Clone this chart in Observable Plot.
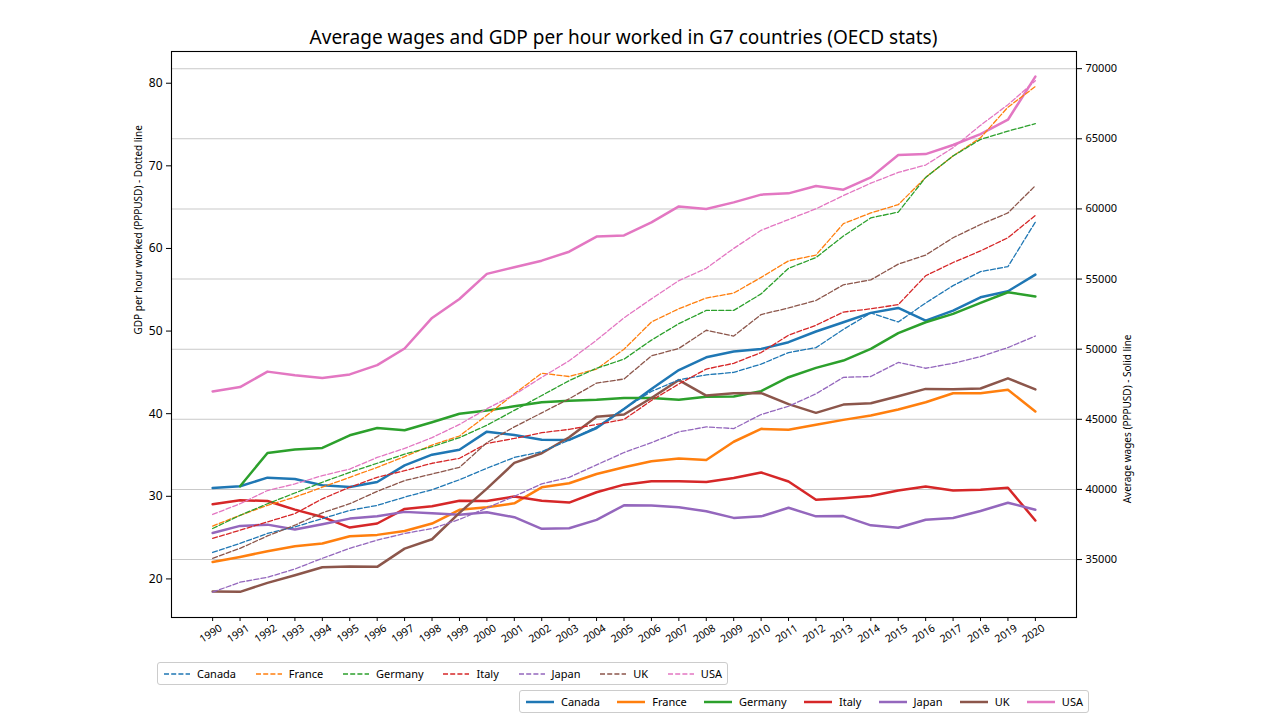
<!DOCTYPE html>
<html>
<head>
<meta charset="utf-8">
<script src="https://cdn.jsdelivr.net/npm/d3@7"></script>
<script src="https://cdn.jsdelivr.net/npm/@observablehq/plot@0.6"></script>
<style>
  html, body { margin: 0; padding: 0; background: #fff; }
  body { width: 1280px; height: 720px; position: relative; overflow: hidden; font-family: "Noto Sans", sans-serif; }
  #chart { position: absolute; left: 0; top: 0; width: 1280px; height: 660px; }
  #chart svg { position: absolute; left: 0; top: 0; }
  #title { position: absolute; left: 0; top: 24px; width: 1247px; text-align: center; font-size: 19px; line-height: 26px; color: #000; }
  .legend { position: absolute; height: 23px; border: 1px solid #cccccc; border-radius: 3px; box-sizing: border-box;
            display: flex; align-items: center; justify-content: space-between; padding: 0 5px; font-size: 11px; color: #000; background: #fff; }
  .item { display: flex; align-items: center; }
  .item svg { margin-right: 6px; }
</style>
</head>
<body>
<div id="chart"></div>
<div id="title">Average wages and GDP per hour worked in G7 countries (OECD stats)</div>
<div id="legend1" class="legend" style="left:157px; top:662px; width:571px;"></div>
<div id="legend2" class="legend" style="left:519px; top:690px; width:570px;"></div>
<script>
const years = [1990,1991,1992,1993,1994,1995,1996,1997,1998,1999,2000,2001,2002,2003,2004,2005,2006,2007,2008,2009,2010,2011,2012,2013,2014,2015,2016,2017,2018,2019,2020];
const countries = ["Canada","France","Germany","Italy","Japan","UK","USA"];
const colors = ["#1f77b4","#ff7f0e","#2ca02c","#d62728","#9467bd","#8c564b","#e377c2"];

// GDP per hour worked (PPPUSD) - dashed lines, left axis
const gdpCanada  = [23.2,24.3,25.5,26.3,27.3,28.3,28.9,29.9,30.8,32.0,33.4,34.7,35.4,36.8,38.4,40.6,42.7,44.1,44.7,45.0,46.0,47.4,48.0,50.2,52.2,51.1,53.4,55.5,57.2,57.8,63.2];
const gdpFrance  = [26.4,27.7,28.9,29.9,31.1,32.3,33.5,34.8,36.2,37.3,39.8,42.4,44.9,44.5,45.4,47.8,51.1,52.7,54.0,54.6,56.5,58.5,59.2,63.0,64.3,65.3,68.6,71.2,73.4,77.1,79.6];
const gdpGermany = [26.1,27.7,29.1,30.4,31.7,32.9,34.0,35.1,36.0,37.1,38.6,40.4,42.2,44.0,45.5,46.6,48.9,50.9,52.5,52.5,54.5,57.6,58.9,61.5,63.7,64.4,68.6,71.2,73.2,74.2,75.1];
const gdpItaly   = [24.9,25.9,26.9,27.9,29.7,31.1,32.3,33.1,34.0,34.6,36.4,37.0,37.7,38.1,38.7,39.3,41.6,43.6,45.4,46.1,47.4,49.5,50.7,52.3,52.7,53.2,56.7,58.3,59.7,61.3,64.0];
const gdpJapan   = [18.4,19.6,20.2,21.2,22.5,23.7,24.7,25.5,26.1,27.2,28.6,30.0,31.5,32.3,33.8,35.3,36.5,37.8,38.4,38.2,39.9,40.9,42.4,44.4,44.5,46.2,45.5,46.1,46.9,48.0,49.4];
const gdpUK      = [22.5,23.7,25.2,26.5,28.0,29.1,30.6,31.9,32.7,33.5,36.5,38.4,40.1,41.8,43.7,44.2,47.0,47.9,50.1,49.4,52.0,52.8,53.7,55.6,56.2,58.1,59.2,61.3,62.9,64.3,67.6];
const gdpUSA     = [27.8,29.1,30.7,31.5,32.5,33.3,34.7,35.8,37.1,38.7,40.6,42.3,44.4,46.4,48.9,51.6,53.9,56.1,57.6,60.0,62.2,63.5,64.8,66.4,67.9,69.2,70.1,72.2,74.9,77.4,80.3];

// Average wages (PPPUSD) - solid lines, right axis
const wageCanada  = [40100,40230,40840,40750,40300,40180,40530,41720,42480,42830,44120,43880,43550,43530,44380,45740,47160,48510,49420,49840,50020,50500,51260,51920,52590,52940,52040,52750,53700,54130,55320];
const wageFrance  = [34830,35190,35590,35950,36140,36660,36760,37040,37570,38550,38730,39010,40150,40440,41100,41580,42010,42200,42100,43400,44320,44250,44610,44960,45270,45700,46220,46860,46860,47100,45560];
const wageGermany = [null,40230,42600,42840,42960,43860,44380,44220,44790,45400,45620,45930,46210,46330,46400,46520,46520,46400,46610,46630,47010,48000,48670,49190,50020,51140,51920,52520,53300,54060,53750];
const wageItaly   = [38940,39230,39180,38560,38040,37280,37570,38610,38800,39200,39180,39490,39200,39060,39800,40340,40580,40580,40530,40820,41210,40570,39260,39380,39530,39930,40210,39930,39980,40120,37790];
const wageJapan   = [36900,37400,37490,37140,37520,37920,38090,38400,38300,38190,38370,38020,37190,37230,37830,38870,38850,38730,38440,37970,38080,38690,38080,38100,37440,37270,37840,37960,38460,39050,38550];
const wageUK      = [32720,32700,33340,33880,34450,34500,34480,35780,36450,38330,40060,41890,42580,43720,45190,45340,46520,47800,46690,46860,46870,46080,45460,46050,46150,46640,47170,47140,47200,47920,47130];
const wageUSA     = [46990,47300,48400,48140,47940,48200,48860,50050,52230,53580,55370,55840,56310,56950,58030,58110,59040,60180,59990,60470,61020,61110,61630,61370,62250,63840,63910,64560,65340,66360,69430];

const gdpTicks = [20,30,40,50,60,70,80];
const wageTicks = [35000,40000,45000,50000,55000,60000,65000,70000];
const leftLabel = "GDP per hour worked (PPPUSD) - Dotted line";
const rightLabel = "Average wages (PPPUSD) - Solid line";

const gdpSeries = [gdpCanada,gdpFrance,gdpGermany,gdpItaly,gdpJapan,gdpUK,gdpUSA];
const wageSeries = [wageCanada,wageFrance,wageGermany,wageItaly,wageJapan,wageUK,wageUSA];
const toRows = series => countries.flatMap((c, k) => years.map((yr, i) => ({year: yr, country: c, value: series[k][i]})));
const gdpRows = toRows(gdpSeries);
const wageRows = toRows(wageSeries);

const common = {
  width: 1280, height: 660,
  marginLeft: 171, marginRight: 204, marginTop: 51, marginBottom: 43,
  x: {domain: [1988.5, 2021.5], axis: null},
  color: {domain: countries, range: colors}
};
const font = "'Noto Sans', sans-serif";

const wagePlot = Plot.plot({
  ...common,
  style: {background: "#fff", fontFamily: font, color: "#000"},
  y: {domain: [30869, 71225], axis: null},
  marks: [
    Plot.gridY({ticks: wageTicks, stroke: "#c9c9c9", strokeOpacity: 1, strokeWidth: 1.1}),
    Plot.line(wageRows, {x: "year", y: "value", z: "country", stroke: "country", strokeWidth: 2.5}),
    Plot.axisY({ticks: wageTicks, anchor: "right", tickSize: 5, tickPadding: 4, fontSize: 11, label: null, tickFormat: d => String(d)}),
    Plot.text([rightLabel], {frameAnchor: "right", dx: 51, rotate: -90, text: d => d, fontSize: 10})
  ]
});

const gdpPlot = Plot.plot({
  ...common,
  style: {background: "transparent", fontFamily: font, color: "#000"},
  y: {domain: [15.33, 83.84], axis: null},
  marks: [
    Plot.line(gdpRows, {x: "year", y: "value", z: "country", stroke: "country", strokeWidth: 1.3, strokeDasharray: "5,2.2"}),
    Plot.frame({stroke: "#000", strokeWidth: 1.1}),
    Plot.axisY({ticks: gdpTicks, anchor: "left", tickSize: 5, tickPadding: 4, fontSize: 12, label: null}),
    Plot.text([leftLabel], {frameAnchor: "left", dx: -33, rotate: -90, text: d => d, fontSize: 10}),
    Plot.axisX({ticks: years, tickSize: 4, tickFormat: () => "", label: null}),
    Plot.text(years, {x: d => d, text: d => String(d), frameAnchor: "bottom", dy: 19, rotate: -33, fontSize: 10.5})
  ]
});

const chart = document.getElementById("chart");
chart.appendChild(wagePlot);
chart.appendChild(gdpPlot);

function buildLegend(el, dashed) {
  countries.forEach((c, k) => {
    const item = document.createElement("div");
    item.className = "item";
    const w = dashed ? 28 : 30;
    item.innerHTML = `<svg width="${w}" height="10"><line x1="1" x2="${w-1}" y1="5" y2="5" stroke="${colors[k]}" stroke-width="${dashed ? 1.3 : 2.5}" ${dashed ? 'stroke-dasharray="5,2.2"' : ''}/></svg><span>${c}</span>`;
    el.appendChild(item);
  });
}
buildLegend(document.getElementById("legend1"), true);
buildLegend(document.getElementById("legend2"), false);
</script>
</body>
</html>
